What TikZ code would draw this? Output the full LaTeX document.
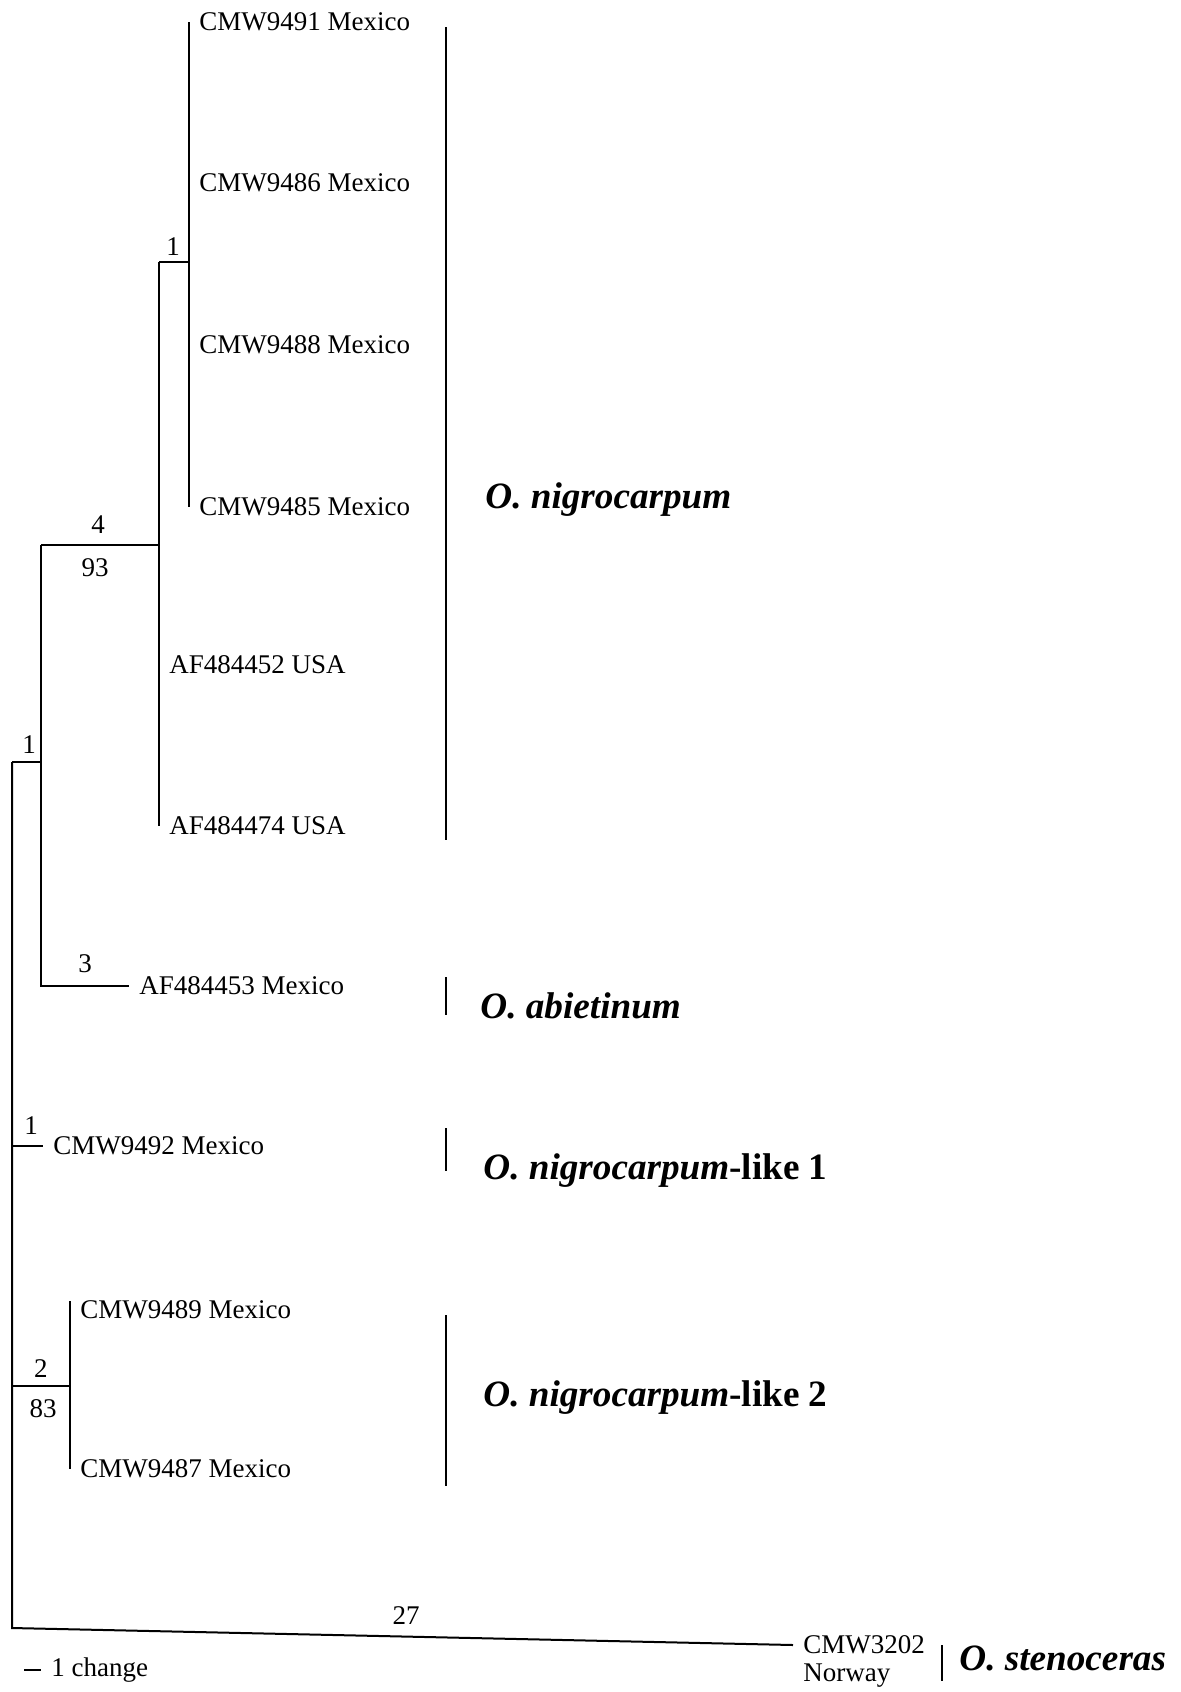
\documentclass[tikz,border=0pt]{standalone}
\usepackage{fontspec}
\setmainfont{Liberation Serif}
\begin{document}
\begin{tikzpicture}[x=0.5pt,y=-0.5pt,
  tip/.style={anchor=west, inner xsep=5pt, inner ysep=0pt, font=\fontsize{13.5}{15}\selectfont},
  num/.style={inner sep=0pt, font=\fontsize{13.5}{15}\selectfont},
  clade/.style={anchor=west, inner sep=0pt, font=\fontsize{18.6}{22}\selectfont\bfseries\itshape},
  branch/.style={line width=1pt},
  bar/.style={line width=1.2pt}]
\useasboundingbox (0,0) rectangle (1181,1692);
% tips
\node[tip] (t1) at (189,22) {CMW9491 Mexico};
\node[tip] (t2) at (189,183) {CMW9486 Mexico};
\node[tip] (t3) at (189,345) {CMW9488 Mexico};
\node[tip] (t4) at (189,507) {CMW9485 Mexico};
\node[tip] (t5) at (159,665) {AF484452 USA};
\node[tip] (t6) at (159,826) {AF484474 USA};
\node[tip] (t7) at (129,986) {AF484453 Mexico};
\node[tip] (t8) at (43,1146) {CMW9492 Mexico};
\node[tip] (t9) at (70,1310) {CMW9489 Mexico};
\node[tip] (t10) at (70,1469) {CMW9487 Mexico};
\node[tip] (t11) at (793,1645) {CMW3202};
\node[tip] (t11b) at (793,1676) {Norway};
% internal nodes
\coordinate (nC) at (159,262);
\coordinate (nB) at (41,545);
\coordinate (nA) at (12,762);
\coordinate (nD) at (12,1386);
\coordinate (rootbot) at (12,1628);
% branches
\draw[branch] (t1.west) -- (t4.west);
\draw[branch] (nC) -- (nC -| t1.west);
\draw[branch] (nC) -- (t6.west);
\draw[branch] (nB) -- (nB -| nC);
\draw[branch] (nB) -- (nB |- t7.west) -- (t7.west);
\draw[branch] (nA) -- (nA -| nB);
\draw[branch] (nA) -- (rootbot) -- (t11.west);
\draw[branch] (nA |- t8.west) -- (t8.west);
\draw[branch] (nD) -- (nD -| t9.west);
\draw[branch] ([yshift=4.5pt]t9.west) -- (t10.west);
% branch labels
\node[num] (l1) at (173,247) {1};
\node[num] (l4) at (98,525) {4};
\node[num] (l93) at (95,568) {93};
\node[num] (l1b) at (29,745) {1};
\node[num] (l3) at (85,964) {3};
\node[num] (l1c) at (31,1126) {1};
\node[num] (l2) at (41,1369) {2};
\node[num] (l83) at (43,1409) {83};
\node[num] (l27) at (406,1616) {27};
% clade brackets and names
\draw[bar] (446,27) -- (446,840);
\node[clade] (c1) at (485,500) {O. nigrocarpum};
\draw[bar] (446,977) -- (446,1015);
\node[clade] (c2) at (480,1006) {O. abietinum};
\draw[bar] (446,1128) -- (446,1171);
\node[clade] (c3) at (483,1171) {O. nigrocarpum{\upshape -like 1}};
\draw[bar] (446,1315) -- (446,1486);
\node[clade] (c4) at (483,1398) {O. nigrocarpum{\upshape -like 2}};
\draw[bar] (942,1645) -- (942,1681);
\node[clade] (c5) at (959,1658) {O. stenoceras};
% scale bar
\coordinate (sb) at (24,1670);
\node[tip] (sbl) at (41,1670) {1 change};
\draw[branch] (sb) -- (sbl.west);
\end{tikzpicture}
\end{document}
